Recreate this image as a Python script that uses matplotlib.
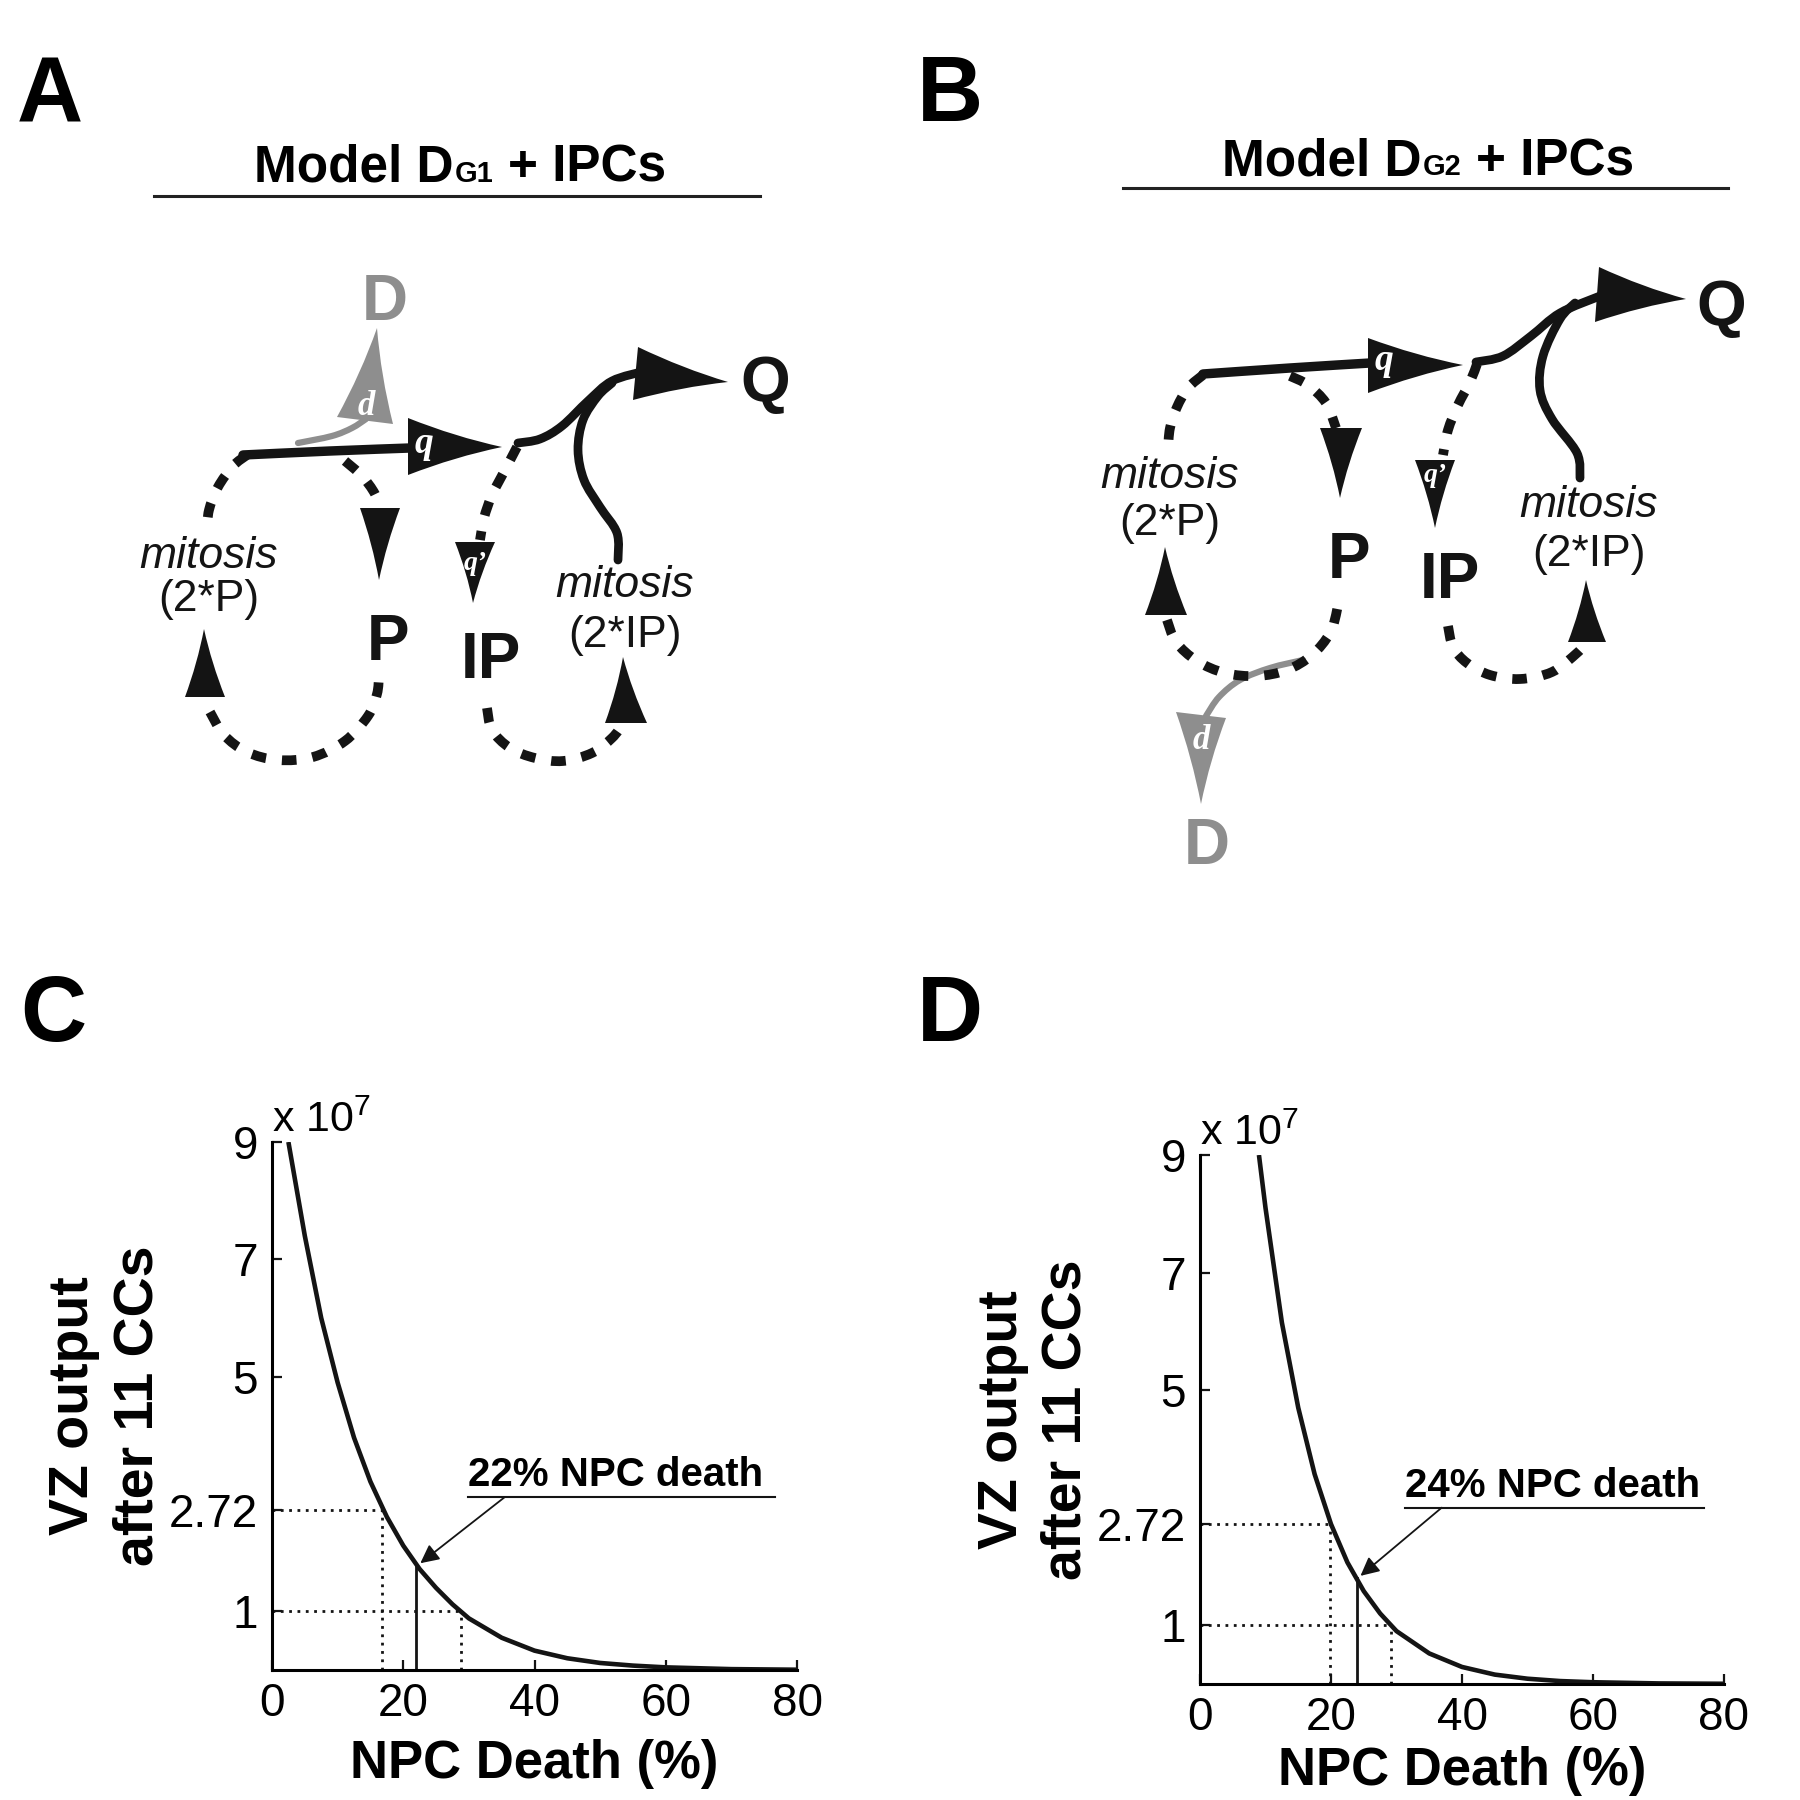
import numpy as np
import matplotlib
matplotlib.use('Agg')
import matplotlib.pyplot as plt
from matplotlib.path import Path
from matplotlib.patches import PathPatch

plt.rcParams['font.family'] = ['Liberation Sans', 'DejaVu Sans']
plt.rcParams['mathtext.fontset'] = 'custom'
plt.rcParams['mathtext.rm'] = 'Liberation Sans'
plt.rcParams['mathtext.it'] = 'Liberation Sans:italic'
plt.rcParams['mathtext.bf'] = 'Liberation Sans:bold'

# ---- curve data (x 10^7) ----
death_c = [2.5, 5, 7.5, 10, 12.5, 15, 17.5, 20, 22.5, 25, 27.5, 30, 35, 40, 45, 50, 55, 60, 70, 80]
vz_c = [9.0, 7.4, 6.0, 4.9, 3.96, 3.21, 2.61, 2.12, 1.72, 1.40, 1.12, 0.88, 0.55, 0.33, 0.20, 0.12, 0.075, 0.045, 0.015, 0.005]
death_d = [9, 10, 12.5, 15, 17.5, 20, 22.5, 25, 27.5, 30, 35, 40, 45, 50, 55, 60, 70, 80]
vz_d = [9.0, 8.1, 6.15, 4.7, 3.57, 2.72, 2.07, 1.58, 1.20, 0.90, 0.52, 0.29, 0.16, 0.09, 0.05, 0.03, 0.01, 0.004]

levels = [2.72, 1.0]
cross_c = [16.8, 28.8]
cross_d = [19.8, 29.2]
mark_c, mark_c_vz = 22, 1.79
mark_d, mark_d_vz = 24, 1.80

xticks = [0, 20, 40, 60, 80]
yticks = [1, 2.72, 5, 7, 9]
ytick_labels = ['1', '2.72', '5', '7', '9']

BLACK = '#141414'
GRAY = '#8e8e8e'

# ---- diagram geometry (figure pixels, y down) ----
a_q_line = [(243, 455), (330, 451), (410, 448)]
a_gray = [(298, 443), (332, 436), (352, 428), (366, 419)]
a_loop_top = [(247, 455), (233, 466), (218, 487), (209, 510), (207, 530)]
a_loop_bottom = [(210, 712), (224, 735), (247, 752), (278, 760), (313, 757), (345, 741), (368, 716), (377, 694), (379, 676)]
a_to_p = [(345, 461), (362, 476), (375, 494), (381, 512)]
a_ip_top = [(517, 447), (505, 470), (492, 495), (484, 518), (480, 540)]
a_ip_bottom = [(487, 708), (492, 730), (510, 748), (535, 758), (563, 761), (592, 753), (612, 738), (623, 724)]
a_ip_mitosis = [(618, 560), (617, 533), (600, 507), (584, 480), (578, 450), (583, 420), (598, 396), (612, 383)]
a_to_q = [(518, 443), (540, 439), (562, 426), (588, 401), (612, 381), (645, 371)]
a_heads = [((502, 447), (408, 418), (408, 475), BLACK),
           ((377, 328), (337, 417), (393, 424), GRAY),
           ((379, 580), (360, 508), (400, 508), BLACK),
           ((473, 603), (455, 542), (495, 542), BLACK),
           ((204, 629), (185, 697), (225, 697), BLACK),
           ((623, 657), (605, 723), (647, 723), BLACK),
           ((728, 382), (638, 347), (633, 400), BLACK)]

b_q_line = [(1203, 374), (1290, 368), (1370, 363)]
b_gray = [(1303, 660), (1270, 668), (1240, 680), (1219, 697), (1206, 716)]
b_loop_top = [(1203, 375), (1188, 388), (1177, 407), (1170, 428), (1168, 449)]
b_loop_bottom = [(1167, 620), (1176, 642), (1197, 661), (1225, 673), (1257, 676), (1287, 670), (1312, 655), (1330, 633), (1337, 610), (1338, 596)]
b_to_p = [(1290, 376), (1308, 385), (1326, 403), (1336, 428)]
b_ip_top = [(1477, 364), (1470, 382), (1458, 405), (1448, 430), (1443, 455)]
b_ip_bottom = [(1448, 626), (1453, 647), (1467, 663), (1490, 675), (1520, 679), (1552, 672), (1577, 653), (1587, 642)]
b_ip_mitosis = [(1580, 478), (1577, 453), (1552, 419), (1540, 390), (1543, 356), (1560, 319), (1575, 303)]
b_to_q = [(1476, 362), (1503, 356), (1531, 336), (1560, 313), (1600, 296)]
b_heads = [((1463, 365), (1368, 338), (1368, 393), BLACK),
           ((1340, 498), (1320, 428), (1362, 428), BLACK),
           ((1435, 528), (1415, 460), (1455, 460), BLACK),
           ((1165, 547), (1145, 615), (1187, 615), BLACK),
           ((1586, 580), (1568, 642), (1606, 642), BLACK),
           ((1686, 299), (1599, 267), (1595, 322), BLACK),
           ((1201, 804), (1176, 712), (1226, 718), GRAY)]


def smooth(pts):
    P = np.asarray(pts, float)
    n = len(P)
    verts, codes = [P[0]], [Path.MOVETO]
    for i in range(n - 1):
        p0 = P[i - 1] if i > 0 else P[i]
        p1, p2 = P[i], P[i + 1]
        p3 = P[i + 2] if i + 2 < n else P[i + 1]
        verts += [p1 + (p2 - p0) / 6, p2 - (p3 - p1) / 6, p2]
        codes += [Path.CURVE4] * 3
    return Path(verts, codes)


def stroke(ax, pts, color=BLACK, lw=6.3, dashed=False):
    if dashed:
        lw = 7.0
    ls = (0, (1.5, 1.65)) if dashed else '-'
    ax.add_patch(PathPatch(smooth(pts), fill=False, ec=color, lw=lw, ls=ls,
                           capstyle='butt' if dashed else 'round', joinstyle='round'))


def head(ax, tip, b1, b2, color, k=0.3):
    tip, b1, b2 = np.asarray(tip, float), np.asarray(b1, float), np.asarray(b2, float)
    bm = (b1 + b2) / 2
    a = (bm + tip) / 2

    def ctrl(b):
        m = (b + tip) / 2
        return m + (a - m) * k
    verts = [b1, ctrl(b1), tip, ctrl(b2), b2, b1]
    codes = [Path.MOVETO, Path.CURVE3, Path.CURVE3, Path.CURVE3, Path.CURVE3, Path.CLOSEPOLY]
    ax.add_patch(PathPatch(Path(verts, codes), fc=color, ec='none'))


def letter(ax, x, y, s, size=27):
    ax.text(x, y, s, color='white', family='Liberation Serif', style='italic',
            weight='bold', fontsize=size, ha='center', va='baseline')


def title(ax, xc, y, x0, x1, ly, sub):
    t1 = ax.text(0, y, 'Model D', fontsize=37, weight='bold', va='baseline')
    t2 = ax.text(0, y, sub, fontsize=21, weight='bold', va='baseline')
    t3 = ax.text(0, y, '+ IPCs', fontsize=37, weight='bold', va='baseline')
    r = fig.canvas.get_renderer()
    w1, w2, w3 = [t.get_window_extent(r).width for t in (t1, t2, t3)]
    gap1, gap2 = 1, 14
    start = xc - (w1 + w2 + w3 + gap1 + gap2) / 2
    t1.set_x(start)
    t2.set_x(start + w1 + gap1)
    t3.set_x(start + w1 + gap1 + w2 + gap2)
    ax.plot([x0, x1], [ly, ly], color='#222222', lw=2.2)


def node(ax, x, y, s, color=BLACK):
    ax.text(x, y, s, fontsize=46, weight='bold', color=color, ha='center', va='baseline')


def mitosis(ax, x, y1, y2, s):
    ax.text(x, y1, 'mitosis', fontsize=32, style='italic', color=BLACK, ha='center', va='baseline')
    ax.text(x, y2, s, fontsize=32, color=BLACK, ha='center', va='baseline')


fig = plt.figure(figsize=(18, 18), dpi=100)
dg = fig.add_axes([0, 0, 1, 1])
dg.set_xlim(0, 1800)
dg.set_ylim(1800, 0)
dg.axis('off')

# panel letters
for lx, ly, s in [(17, 121, 'A'), (917, 121, 'B'), (20, 1041, 'C'), (917, 1041, 'D')]:
    dg.text(lx, ly, s, fontsize=66, weight='bold', va='baseline', ha='left')

# ---- diagram A ----
title(dg, 460, 182, 154, 760, 196, 'G1')
stroke(dg, a_gray, color=GRAY, lw=4.5)
stroke(dg, a_q_line, lw=6.8)
for pts in (a_loop_top, a_loop_bottom, a_to_p, a_ip_top, a_ip_bottom):
    stroke(dg, pts, dashed=True)
stroke(dg, a_ip_mitosis)
stroke(dg, a_to_q)
for tip, b1, b2, c in a_heads:
    head(dg, tip, b1, b2, c)
node(dg, 385, 320, 'D', GRAY)
node(dg, 388, 660, 'P')
node(dg, 491, 678, 'IP')
node(dg, 765, 402, 'Q')
mitosis(dg, 209, 568, 611, '(2*P)')
mitosis(dg, 625, 597, 647, '(2*IP)')
letter(dg, 424, 453, 'q')
letter(dg, 366, 415, 'd', 25)
letter(dg, 475, 570, 'q\u2019', 20)

# ---- diagram B ----
title(dg, 1428, 175, 1123, 1728, 188, 'G2')
stroke(dg, b_gray, color=GRAY, lw=4.5)
stroke(dg, b_q_line, lw=6.8)
for pts in (b_loop_top, b_loop_bottom, b_to_p, b_ip_top, b_ip_bottom):
    stroke(dg, pts, dashed=True)
stroke(dg, b_ip_mitosis)
stroke(dg, b_to_q)
for tip, b1, b2, c in b_heads:
    head(dg, tip, b1, b2, c)
node(dg, 1349, 578, 'P')
node(dg, 1450, 598, 'IP')
node(dg, 1721, 326, 'Q')
node(dg, 1207, 864, 'D', GRAY)
mitosis(dg, 1170, 488, 535, '(2*P)')
mitosis(dg, 1589, 517, 566, '(2*IP)')
letter(dg, 1384, 370, 'q')
letter(dg, 1201, 749, 'd', 25)
letter(dg, 1435, 482, 'q\u2019', 20)


# ---- curve panels ----
def curve_panel(ax, death, vz, cross, mark, mark_vz, txt, txt_xy, line_x1, arrow_from, arrow_to, xlab_y):
    ax.plot(death, vz, color=BLACK, lw=3.3, solid_capstyle='butt', clip_on=True)
    for lev, cx in zip(levels, cross):
        ax.plot([0, cx], [lev, lev], color=BLACK, lw=2, ls=(0, (1, 2)))
        ax.plot([cx, cx], [0, lev], color=BLACK, lw=2, ls=(0, (1, 2)))
    ax.plot([mark, mark], [0, mark_vz], color=BLACK, lw=2)
    ax.text(txt_xy[0], txt_xy[1], txt, fontsize=29, weight='bold', va='baseline', ha='left')
    ax.plot([txt_xy[0], line_x1], [arrow_from[1], arrow_from[1]], color=BLACK, lw=1.5, clip_on=False)
    ax.annotate('', xy=arrow_to, xytext=arrow_from,
                arrowprops=dict(arrowstyle='-|>', color=BLACK, lw=1.3, mutation_scale=28,
                                shrinkA=0, shrinkB=0))
    ax.set_xlim(0, 80)
    ax.set_ylim(0, 9)
    ax.set_xticks(xticks)
    ax.set_yticks(yticks)
    ax.set_yticklabels(ytick_labels)
    for side in ('top', 'right'):
        ax.spines[side].set_visible(False)
    for side in ('left', 'bottom'):
        ax.spines[side].set_linewidth(2.2)
    ax.tick_params(direction='in', length=7, width=1.6, labelsize=33, color=BLACK)
    ax.tick_params(axis='x', pad=9)
    ax.tick_params(axis='y', pad=10)
    ax.text(0.0, 1.018, r'x 10$^{7}$', transform=ax.transAxes, fontsize=31, va='baseline', ha='left')
    ax.set_xlabel('NPC Death (%)', fontsize=38, weight='bold')
    ax.xaxis.set_label_coords(0.5, xlab_y)
    ax.set_ylabel('VZ output\nafter 11 CCs', fontsize=40, weight='bold', linespacing=1.3)
    ax.yaxis.set_label_coords(-0.205, 0.5)
    ax.patch.set_alpha(0)


axc = fig.add_axes([272 / 1800, 1 - 1670 / 1800, 525 / 1800, 528 / 1800])
curve_panel(axc, death_c, vz_c, cross_c, mark_c, mark_c_vz, '22% NPC death',
            (29.9, 3.14), 76.6, (35.5, 2.95), (22.6, 1.82), -0.13)

axd = fig.add_axes([1200 / 1800, 1 - 1684 / 1800, 524 / 1800, 529 / 1800])
curve_panel(axd, death_d, vz_d, cross_d, mark_d, mark_d_vz, '24% NPC death',
            (31.3, 3.18), 76.9, (36.9, 3.0), (24.5, 1.84), -0.118)

fig.savefig('out.png', dpi=100, facecolor='white')
